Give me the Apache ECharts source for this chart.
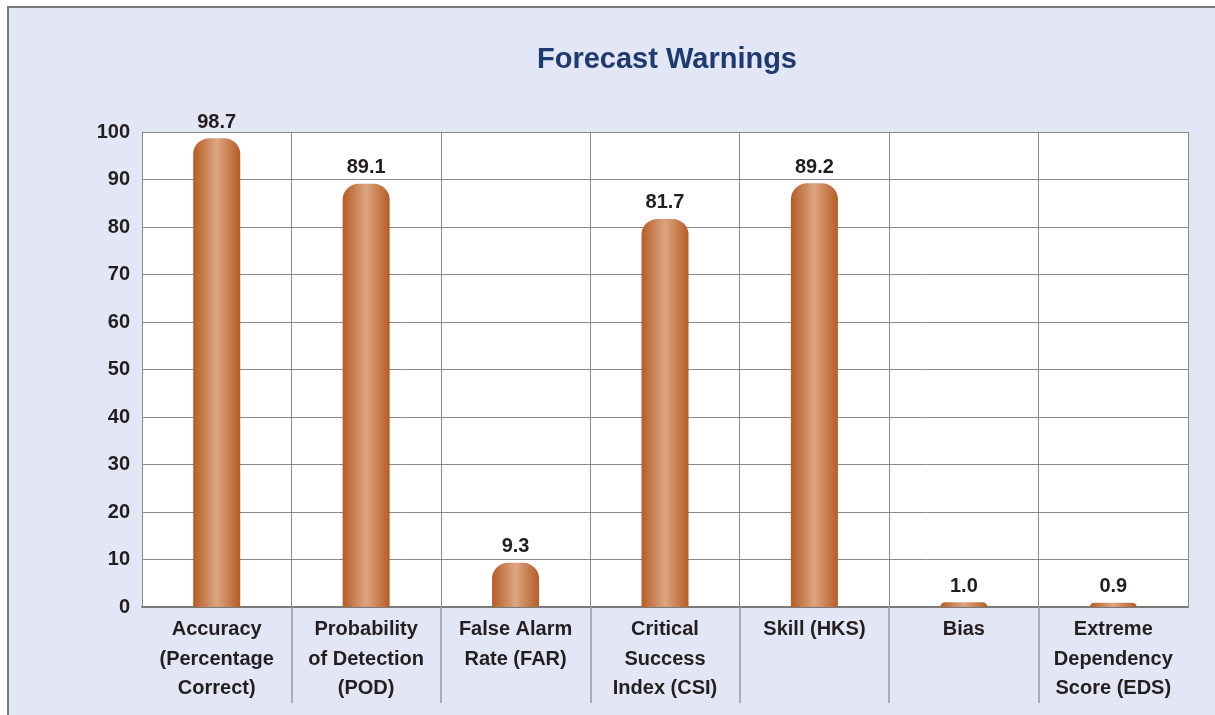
<!DOCTYPE html>
<html>
<head>
<meta charset="utf-8">
<script src="https://cdn.jsdelivr.net/npm/echarts@6/dist/echarts.min.js"></script>
<style>
  html, body { margin: 0; padding: 0; background: #ffffff; }
  #frame {
    position: absolute; left: 7px; top: 6px; width: 1208px; height: 709px;
    border-left: 2px solid #7a7a7a; border-top: 2px solid #7a7a7a;
    box-sizing: border-box; background: #e2e6f5;
  }
  #chart { position: absolute; left: 0; top: 0; width: 1215px; height: 715px; }
</style>
</head>
<body>
<div id="frame"></div>
<div id="chart"></div>
<script>
// Verification scores for forecast warnings
const categories = [
  'Accuracy\n(Percentage\nCorrect)',
  'Probability\nof Detection\n(POD)',
  'False Alarm\nRate (FAR)',
  'Critical\nSuccess\nIndex (CSI)',
  'Skill (HKS)',
  'Bias',
  'Extreme\nDependency\nScore (EDS)'
];
const scores = [98.7, 89.1, 9.3, 81.7, 89.2, 1.0, 0.9];
const valueLabels = ['98.7', '89.1', '9.3', '81.7', '89.2', '1.0', '0.9'];

const sans = '"Liberation Sans", Arial, Helvetica, sans-serif';

// plot box
const W = 1215, H = 715;
const plotLeft = 142, plotRight = 27, plotTop = 132, plotBottom = 108;
const band = (W - plotLeft - plotRight) / categories.length;

const chart = echarts.init(document.getElementById('chart'), null, { renderer: 'canvas' });

const copperFill = new echarts.graphic.LinearGradient(0, 0, 1, 0, [
  { offset: 0, color: '#b65c25' },
  { offset: 0.5, color: '#dca581' },
  { offset: 1, color: '#b65c25' }
]);

chart.setOption({
  backgroundColor: 'transparent',
  animation: false,
  title: {
    text: 'Forecast Warnings',
    left: 662,
    top: 40,
    textAlign: 'center',
    textStyle: {
      fontFamily: sans,
      fontWeight: 'bold',
      fontSize: 29,
      color: '#1e3a6f'
    }
  },
  grid: [
    {
      left: plotLeft, right: plotRight, top: plotTop, bottom: plotBottom,
      show: true, backgroundColor: '#ffffff', borderWidth: 0
    },
    // inner-boundary grid used only for the separators under the labels
    {
      left: plotLeft + band, right: plotRight + band, top: plotTop, bottom: plotBottom,
      show: false
    }
  ],
  xAxis: [
    {
      type: 'category',
      gridIndex: 0,
      data: categories,
      axisLine: { show: true, lineStyle: { color: '#7a7a7a', width: 2 } },
      axisTick: { show: false },
      splitLine: { show: true, lineStyle: { color: '#8a8a8a', width: 1 } },
      axisLabel: {
        interval: 0,
        margin: 8,
        fontFamily: sans,
        fontWeight: 'bold',
        fontSize: 20,
        lineHeight: 29.5,
        color: '#231f20'
      }
    },
    {
      type: 'value',
      gridIndex: 1,
      min: 1, max: categories.length - 1, interval: 1,
      axisLine: { show: false },
      axisLabel: { show: false },
      splitLine: { show: false },
      axisTick: { show: true, length: 96, lineStyle: { color: '#9a9a9a', width: 1.5 } }
    }
  ],
  yAxis: [
    {
      type: 'value',
      gridIndex: 0,
      min: 0, max: 100, interval: 10,
      axisLine: { show: true, lineStyle: { color: '#8a8a8a', width: 1 } },
      axisTick: { show: false },
      splitLine: { show: true, lineStyle: { color: '#8a8a8a', width: 1 } },
      axisLabel: {
        margin: 12,
        fontFamily: sans,
        fontWeight: 'bold',
        fontSize: 20,
        color: '#231f20'
      }
    },
    { type: 'value', gridIndex: 1, show: false }
  ],
  series: [{
    type: 'bar',
    xAxisIndex: 0,
    yAxisIndex: 0,
    data: scores,
    barWidth: 47,
    itemStyle: { color: copperFill, borderRadius: [16, 16, 0, 0] },
    label: {
      show: true,
      position: 'top',
      distance: 6,
      formatter: function (p) { return valueLabels[p.dataIndex]; },
      fontFamily: sans,
      fontWeight: 'bold',
      fontSize: 20,
      color: '#231f20'
    }
  }]
});
</script>
</body>
</html>
